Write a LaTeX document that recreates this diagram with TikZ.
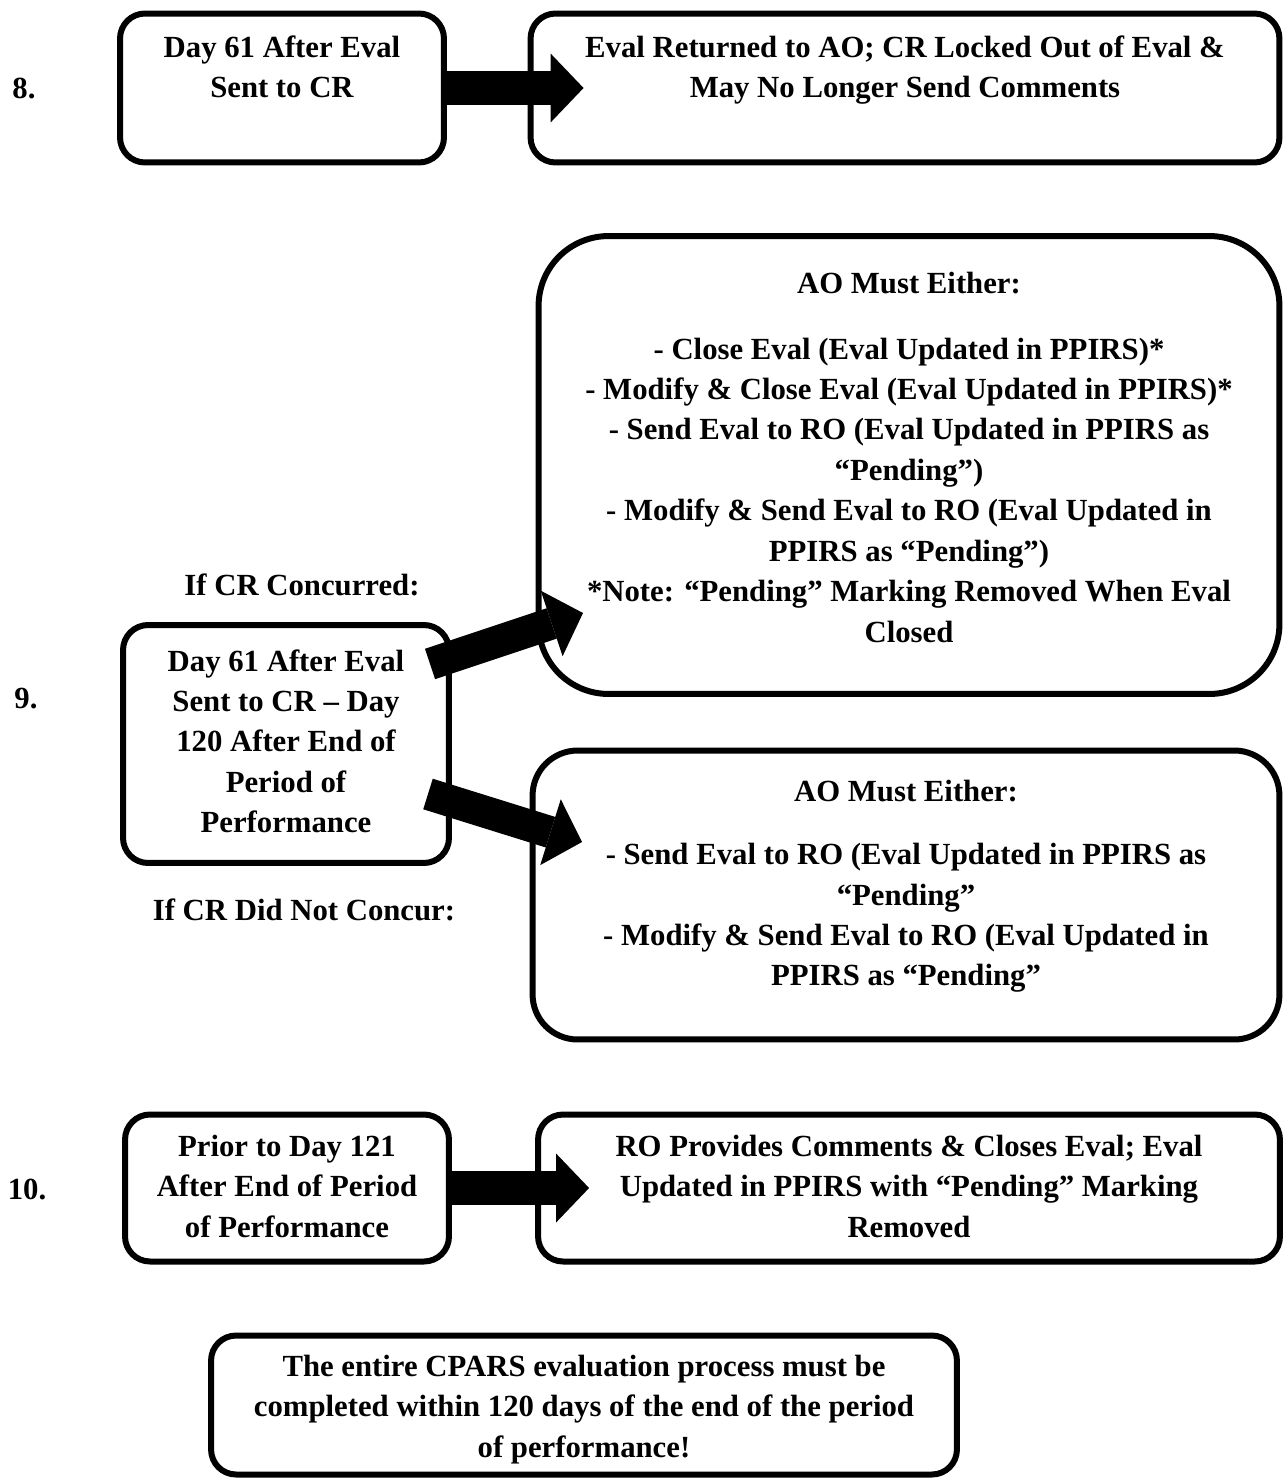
\documentclass[tikz,border=0pt]{standalone}
\usepackage{fontspec}
\setmainfont{Liberation Serif}
\usetikzlibrary{arrows.meta,calc}

\tikzset{
  box/.style={draw, line width=1.2mm, rounded corners=0.5cm},
  txt/.style={font=\fontsize{17.5}{23}\selectfont\bfseries, align=center, inner sep=0pt, anchor=north},
  lbl/.style={font=\fontsize{17.5}{23}\selectfont\bfseries, inner sep=0pt},
  bigarrow/.style={line width=0.68cm, -{Triangle[length=0.66cm, width=1.38cm, line width=0pt]}}
}

\begin{document}
\begin{tikzpicture}[x=0.02cm, y=-0.02cm]
\useasboundingbox (0,0) rectangle (1288,1481);

% step 8
\node[lbl] (n8) at (24,88) {8.};
\node[box, minimum width=6.48cm, minimum height=2.98cm] (d8) at (282,88) {};
\node[box, minimum width=14.98cm, minimum height=2.98cm] (e8) at (905,88) {};
\node[txt] (t8) at ([yshift=-0.5cm]d8.north) {Day 61 After Eval\\Sent to CR};
\node[txt] (u8) at ([yshift=-0.5cm]e8.north) {Eval Returned to AO; CR Locked Out of Eval \&\\May No Longer Send Comments};
\draw[bigarrow] (d8.east) -- ($(e8.west)+(56,0)$);

% step 9
\node[lbl] (n9) at (26,699) {9.};
\node[lbl] (yes9) at (302,585) {If CR Concurred:};
\node[lbl] (no9) at (304,910) {If CR Did Not Concur:};
\node[box, minimum width=6.52cm, minimum height=4.76cm] (d9) at (286,744) {};
\node[box, rounded corners=1.4cm, minimum width=14.82cm, minimum height=9.16cm] (e9) at (909,465) {};
\node[box, rounded corners=0.9cm, minimum width=14.94cm, minimum height=5.78cm] (f9) at (906,895) {};
\node[txt] (t9) at ([yshift=-0.54cm]d9.north) {Day 61 After Eval\\Sent to CR -- Day\\120 After End of\\Period of\\Performance};
\node[txt] (u9) at ([yshift=-0.78cm]e9.north) {AO Must Either:\\[0.5cm]
  - Close Eval (Eval Updated in PPIRS)*\\
  - Modify \& Close Eval (Eval Updated in PPIRS)*\\
  - Send Eval to RO (Eval Updated in PPIRS as\\
  “Pending”)\\
  - Modify \& Send Eval to RO (Eval Updated in\\
  PPIRS as “Pending”)\\
  *Note: “Pending” Marking Removed When Eval\\
  Closed};
\node[txt] (v9) at ([yshift=-0.64cm]f9.north) {AO Must Either:\\[0.46cm]
  - Send Eval to RO (Eval Updated in PPIRS as\\
  “Pending”\\
  - Modify \& Send Eval to RO (Eval Updated in\\
  PPIRS as “Pending”};
\coordinate (s9a) at (430,664);
\coordinate (s9b) at (428,794);
\coordinate (h9a) at (583,613);
\coordinate (h9b) at (582,842);
\draw[bigarrow, line width=0.64cm] (s9a) -- (h9a);
\draw[bigarrow, line width=0.64cm] (s9b) -- (h9b);

% step 10
\node[lbl] (n10) at (27,1189) {10.};
\node[box, minimum width=6.48cm, minimum height=2.94cm] (d10) at (287,1188) {};
\node[box, minimum width=14.84cm, minimum height=2.94cm] (e10) at (909,1188) {};
\node[txt] (t10) at ([yshift=-0.46cm]d10.north) {Prior to Day 121\\After End of Period\\of Performance};
\node[txt] (u10) at ([yshift=-0.46cm]e10.north) {RO Provides Comments \& Closes Eval; Eval\\Updated in PPIRS with “Pending” Marking\\Removed};
\draw[bigarrow] (d10.east) -- ($(e10.west)+(54,0)$);

% final note
\node[box, minimum width=14.92cm, minimum height=2.78cm] (fin) at (584,1405) {};
\node[txt] (tfin) at ([yshift=-0.44cm]fin.north) {The entire CPARS evaluation process must be\\completed within 120 days of the end of the period\\of performance!};

\end{tikzpicture}
\end{document}
